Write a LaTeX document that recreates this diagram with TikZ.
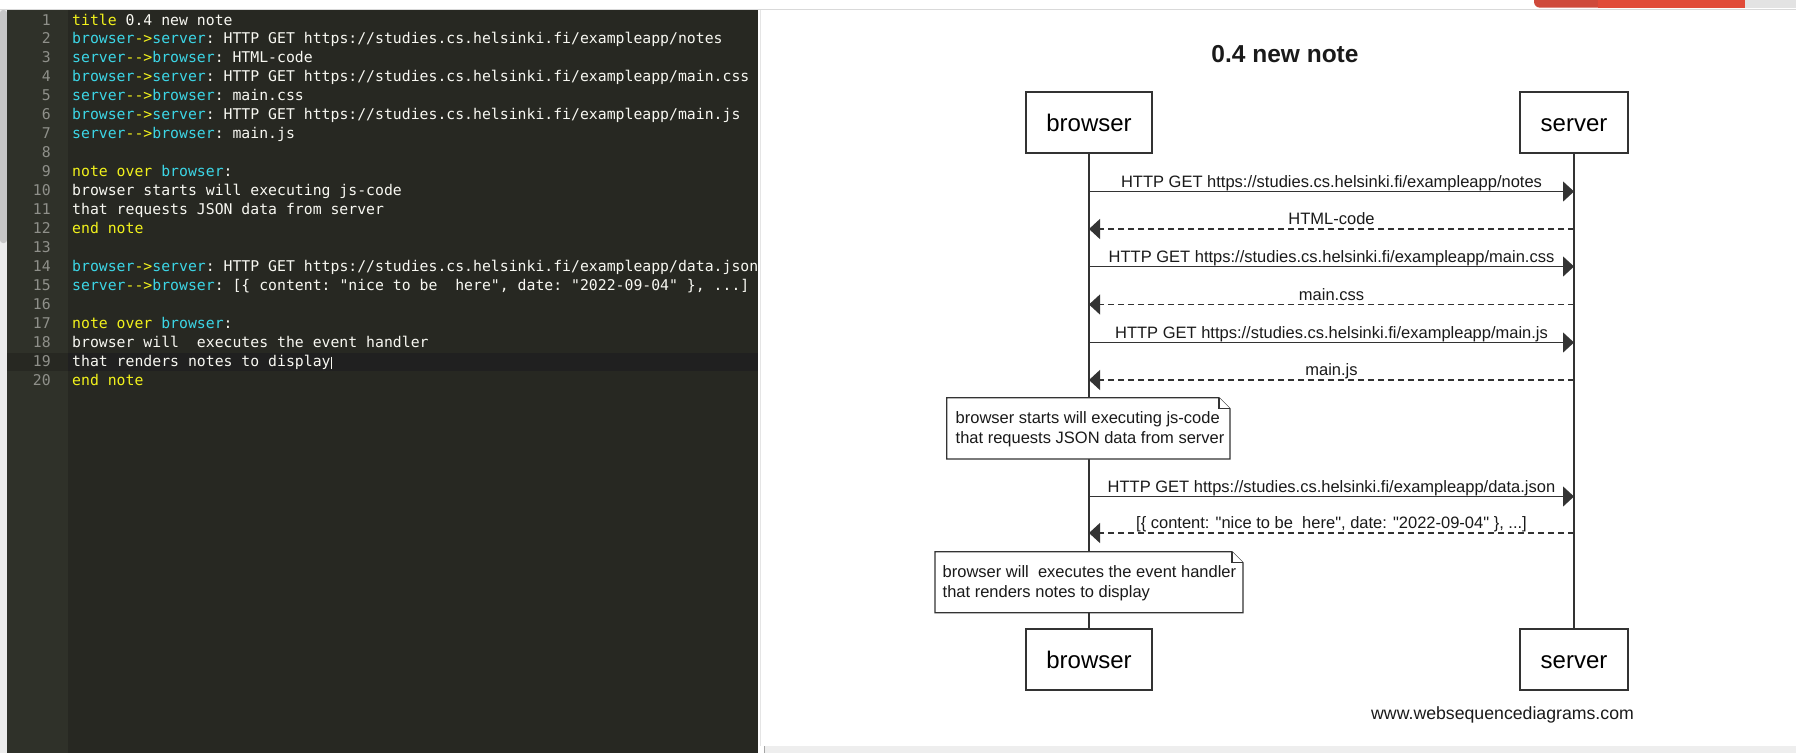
\documentclass[tikz,border=0pt]{standalone}
\usepackage{fontspec}
\setmainfont[Ligatures=TeXOff]{Liberation Sans}
\setmonofont{DejaVu Sans Mono}
\usetikzlibrary{arrows.meta}
\newcommand\cKey[1]{\textcolor{kwyellow}{#1}}
\newcommand\cName[1]{\textcolor{nmcyan}{#1}}
\begin{document}
\begin{tikzpicture}[x=1pt, y=-1pt,
  actor/.style={draw=linecol, line width=1.4pt, fill=white, minimum height=61pt, inner sep=0pt, text height=17.5pt, text depth=0pt, font=\fontsize{24}{28}\selectfont},
  life/.style={draw=linecol, line width=1.3pt},
  msg/.style={draw=linecol, line width=1.2pt, -{Triangle[length=11pt, width=20pt]}},
  reply/.style={msg, dash pattern=on 6pt off 4pt},
  lbl/.style={anchor=base, inner sep=0pt, text=txtcol, font=\fontsize{16.5}{20}\selectfont},
  notebox/.style={draw=linecol, line width=1.3pt, fill=white},
  notetext/.style={anchor=north west, inner sep=0pt, align=left, text=txtcol, font=\fontsize{16.5}{20}\selectfont},
  code/.style={anchor=base west, inner sep=0pt, text=codewhite, font=\ttfamily\fontsize{14.8}{18.9}\selectfont},
  lineno/.style={anchor=base east, inner sep=0pt, text=numgray, font=\ttfamily\fontsize{14.8}{18.9}\selectfont}]
\definecolor{editorbg}{HTML}{272822}
\definecolor{gutterbg}{HTML}{2F3129}
\definecolor{activebg}{HTML}{202020}
\definecolor{numgray}{HTML}{8F908A}
\definecolor{codewhite}{HTML}{F8F8F2}
\definecolor{kwyellow}{HTML}{F2F21C}
\definecolor{nmcyan}{HTML}{3CD6E6}
\definecolor{linecol}{HTML}{333333}
\definecolor{txtcol}{HTML}{1A1A1A}
\useasboundingbox (0,0) rectangle (1796,753);
\fill[white] (0,0) rectangle (1796,753);
\draw[gray!30, line width=1pt] (0,9.5) -- (1796,9.5);
\definecolor{col}{HTML}{CF4A3B}
\fill[col, rounded corners=6pt] (1534,-10) rectangle (1610,7.7);
\definecolor{col}{HTML}{E14B39}
\fill[col] (1598,0) rectangle (1745,7.7);
\fill[gray!22] (1745,0) rectangle (1796,7.7);
\fill[gray!15] (0,10) rectangle (7,753);
\fill[gray!45, rounded corners=3pt] (0,10) rectangle (7,243);
\fill[editorbg] (7,10) rectangle (758,753);
\fill[gutterbg] (7,10) rectangle (68,753);
\fill[editorbg] (7,352.7) rectangle (68,371);
\fill[activebg] (68,352.7) rectangle (758,371);
\draw[gray!20, line width=1pt] (760.5,10) -- (760.5,746);
\fill[gray!13] (764,746) rectangle (1796,753);
\draw[gray!70, line width=1pt] (764.5,746) -- (764.5,753);
\node[lineno] (l1) at (51,25) {1};
\node[lineno] (l2) at (51,43.95) {2};
\node[lineno] (l3) at (51,62.9) {3};
\node[lineno] (l4) at (51,81.85) {4};
\node[lineno] (l5) at (51,100.8) {5};
\node[lineno] (l6) at (51,119.75) {6};
\node[lineno] (l7) at (51,138.7) {7};
\node[lineno] (l8) at (51,157.65) {8};
\node[lineno] (l9) at (51,176.6) {9};
\node[lineno] (l10) at (51,195.55) {10};
\node[lineno] (l11) at (51,214.5) {11};
\node[lineno] (l12) at (51,233.45) {12};
\node[lineno] (l13) at (51,252.4) {13};
\node[lineno] (l14) at (51,271.35) {14};
\node[lineno] (l15) at (51,290.3) {15};
\node[lineno] (l16) at (51,309.25) {16};
\node[lineno] (l17) at (51,328.2) {17};
\node[lineno] (l18) at (51,347.15) {18};
\node[lineno] (l19) at (51,366.1) {19};
\node[lineno] (l20) at (51,385.05) {20};
\begin{scope}
\clip (68,10) rectangle (758,753);
\node[code] (c1) at (72,25) {\cKey{title} 0.4 new note};
\node[code] (c2) at (72,43.95) {\cName{browser}\cKey{->}\cName{server}: HTTP GET https://studies.cs.helsinki.fi/exampleapp/notes};
\node[code] (c3) at (72,62.9) {\cName{server}\cKey{-{}->}\cName{browser}: HTML-code};
\node[code] (c4) at (72,81.85) {\cName{browser}\cKey{->}\cName{server}: HTTP GET https://studies.cs.helsinki.fi/exampleapp/main.css};
\node[code] (c5) at (72,100.8) {\cName{server}\cKey{-{}->}\cName{browser}: main.css};
\node[code] (c6) at (72,119.75) {\cName{browser}\cKey{->}\cName{server}: HTTP GET https://studies.cs.helsinki.fi/exampleapp/main.js};
\node[code] (c7) at (72,138.7) {\cName{server}\cKey{-{}->}\cName{browser}: main.js};
\node[code] (c9) at (72,176.6) {\cKey{note over} \cName{browser}:};
\node[code] (c10) at (72,195.55) {browser starts will executing js-code};
\node[code] (c11) at (72,214.5) {that requests JSON data from server};
\node[code] (c12) at (72,233.45) {\cKey{end note}};
\node[code] (c14) at (72,271.35) {\cName{browser}\cKey{->}\cName{server}: HTTP GET https://studies.cs.helsinki.fi/exampleapp/data.json};
\node[code] (c15) at (72,290.3) {\cName{server}\cKey{-{}->}\cName{browser}: [\{ content: "nice to be\ \ here", date: "2022-09-04" \}, ...]};
\node[code] (c17) at (72,328.2) {\cKey{note over} \cName{browser}:};
\node[code] (c18) at (72,347.15) {browser will\ \ executes the event handler};
\node[code] (c19) at (72,366.1) {that renders notes to display};
\node[code] (c20) at (72,385.05) {\cKey{end note}};
\end{scope}
\draw[codewhite, line width=1.5pt] (331.5,356.7) -- (331.5,369);
\node[anchor=base, inner sep=0pt, text=txtcol, font=\bfseries\fontsize{24.5}{28}\selectfont] (title) at (1285,62.7) {0.4 new note};
\node[actor, minimum width=126pt] (btop) at (1089,122.5) {browser};
\node[actor, minimum width=108pt] (stop) at (1574,122.5) {server};
\node[actor, minimum width=126pt] (bbot) at (1089,659.5) {browser};
\node[actor, minimum width=108pt] (sbot) at (1574,659.5) {server};
\draw[life] (btop) -- (bbot);
\draw[life] (stop) -- (sbot);
\coordinate (b1) at (1089,191.5); \coordinate (s1) at (1574,191.5);
\coordinate (b2) at (1089,229); \coordinate (s2) at (1574,229);
\coordinate (b3) at (1089,266.5); \coordinate (s3) at (1574,266.5);
\coordinate (b4) at (1089,304.5); \coordinate (s4) at (1574,304.5);
\coordinate (b5) at (1089,342.5); \coordinate (s5) at (1574,342.5);
\coordinate (b6) at (1089,380); \coordinate (s6) at (1574,380);
\coordinate (b7) at (1089,496.5); \coordinate (s7) at (1574,496.5);
\coordinate (b8) at (1089,533); \coordinate (s8) at (1574,533);
\draw[msg] (b1) -- (s1) node[lbl, midway, yshift=4.5pt] (m1) {HTTP GET https://studies.cs.helsinki.fi/exampleapp/notes};
\draw[reply] (s2) -- (b2) node[lbl, midway, yshift=4.5pt] (m2) {HTML-code};
\draw[msg] (b3) -- (s3) node[lbl, midway, yshift=4.5pt] (m3) {HTTP GET https://studies.cs.helsinki.fi/exampleapp/main.css};
\draw[reply] (s4) -- (b4) node[lbl, midway, yshift=4.5pt] (m4) {main.css};
\draw[msg] (b5) -- (s5) node[lbl, midway, yshift=4.5pt] (m5) {HTTP GET https://studies.cs.helsinki.fi/exampleapp/main.js};
\draw[reply] (s6) -- (b6) node[lbl, midway, yshift=4.5pt] (m6) {main.js};
\draw[notebox] (946.7,397.7) -- (1219,397.7) -- (1230,408.7) -- (1230,459) -- (946.7,459) -- cycle;
\draw[notebox] (1219,397.7) -- (1219,408.7) -- (1230,408.7);
\node[notetext] (n1) at (955.5,411.2) {browser starts will executing js-code\\that requests JSON data from server};
\draw[msg] (b7) -- (s7) node[lbl, midway, yshift=4.5pt] (m7) {HTTP GET https://studies.cs.helsinki.fi/exampleapp/data.json};
\draw[reply] (s8) -- (b8) node[lbl, midway, yshift=4.5pt] (m8) {[\{ content: "nice to be\ \ here", date: "2022-09-04" \}, ...]};
\draw[notebox] (935,551.7) -- (1232,551.7) -- (1243,562.7) -- (1243,612.7) -- (935,612.7) -- cycle;
\draw[notebox] (1232,551.7) -- (1232,562.7) -- (1243,562.7);
\node[notetext] (n2) at (942.5,564.9) {browser will\ \ executes the event handler\\that renders notes to display};
\node[anchor=base west, inner sep=0pt, text=txtcol, font=\fontsize{17.7}{20}\selectfont] (www) at (1371,719.3) {www.websequencediagrams.com};
\end{tikzpicture}
\end{document}
